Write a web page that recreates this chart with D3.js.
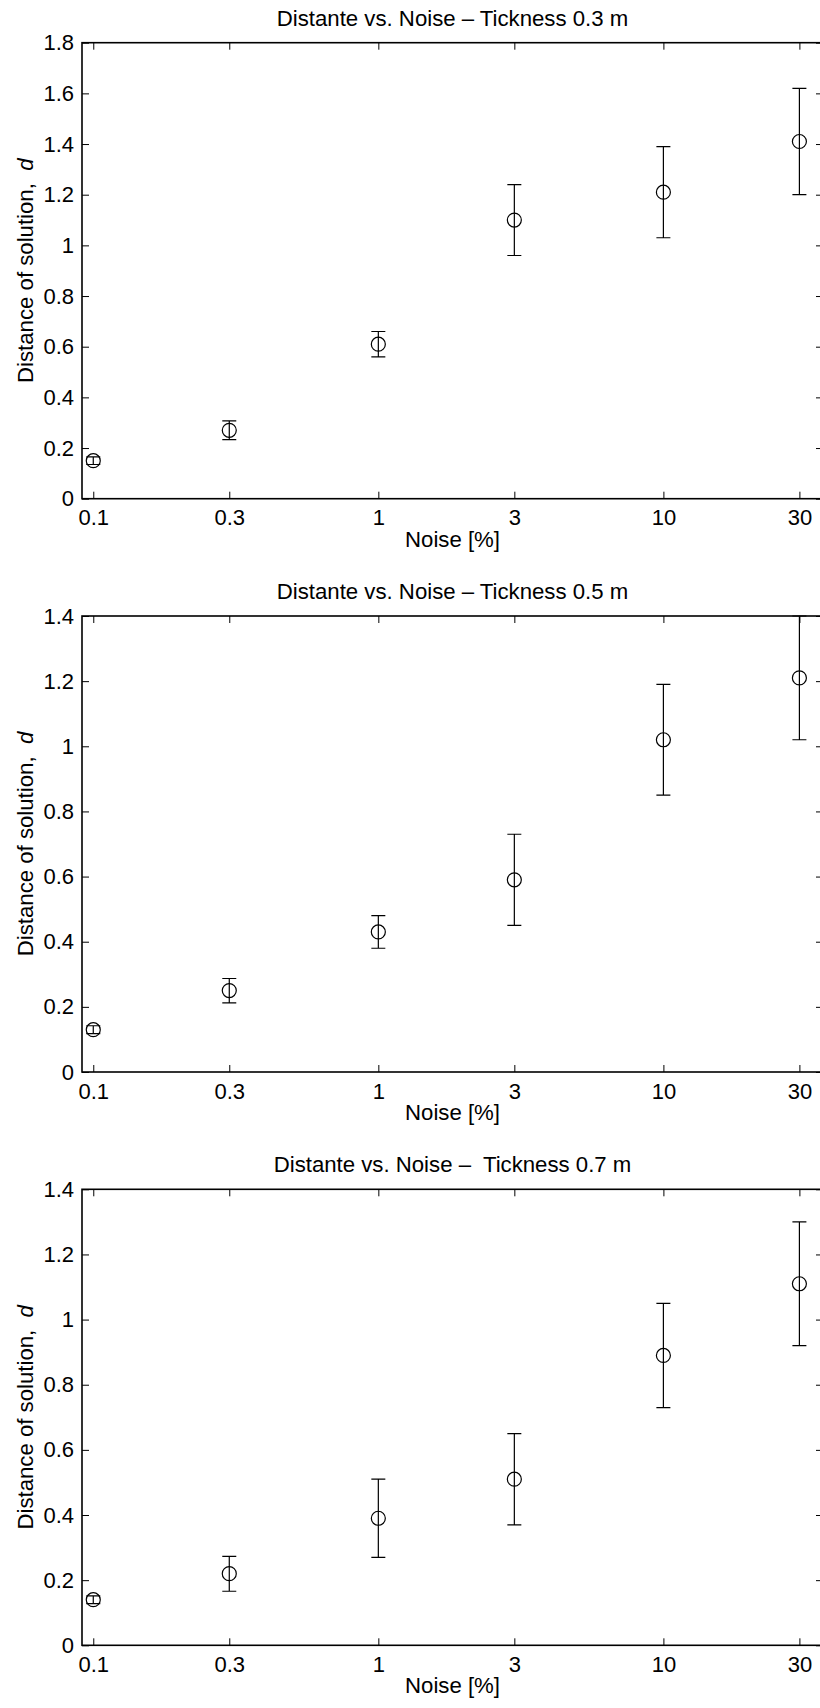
<!DOCTYPE html>
<head>
  <meta charset="utf-8">
  <script src="https://d3js.org/d3.v7.min.js"></script>
  <style>
    body { margin: 0; background: #fff; }
    svg { display: block; font-family: "Liberation Sans", Arial, sans-serif; }
  </style>
</head>
<body>
  <svg width="820" height="1708"></svg>
  <script>
    // noise levels (x), shared by the three panels
    var noise = [0.1, 0.3, 1, 3, 10, 30];
    var titles = [
      'Distante vs. Noise \u2013 Tickness 0.3 m',
      'Distante vs. Noise \u2013 Tickness 0.5 m',
      'Distante vs. Noise \u2013  Tickness 0.7 m'
    ];
    var yMax = [1.8, 1.4, 1.4];

    // thickness 0.3 m
    var dist03 = [0.15, 0.27, 0.61, 1.10, 1.21, 1.41];
    var low03  = [0.135, 0.233, 0.56, 0.96, 1.03, 1.20];
    var high03 = [0.165, 0.307, 0.66, 1.24, 1.39, 1.62];
    // thickness 0.5 m
    var dist05 = [0.13, 0.25, 0.43, 0.59, 1.02, 1.21];
    var low05  = [0.118, 0.212, 0.38, 0.45, 0.85, 1.02];
    var high05 = [0.142, 0.287, 0.48, 0.73, 1.19, 1.40];
    // thickness 0.7 m
    var dist07 = [0.14, 0.22, 0.39, 0.51, 0.89, 1.11];
    var low07  = [0.128, 0.166, 0.27, 0.37, 0.73, 0.92];
    var high07 = [0.152, 0.273, 0.51, 0.65, 1.05, 1.30];

    var series = [[dist03, low03, high03], [dist05, low05, high05], [dist07, low07, high07]];

    var svg = d3.select('svg');
    var left = 82, right = 823, plotH = 456;
    var tops = [42.7, 616, 1189.3];
    var tick = 7, cap = 7;

    var x = d3.scaleLog().domain([0.0913, 36.3]).range([left, right]);

    series.forEach(function(s, p) {
      var top = tops[p], bottom = top + plotH;
      var y = d3.scaleLinear().domain([0, yMax[p]]).range([bottom, top]);
      var yTicks = d3.range(0, yMax[p] + 0.001, 0.2);
      var g = svg.append('g');

      var fmtY = function(d) { return String(+d.toFixed(1)); };

      var axL = g.append('g').attr('transform', 'translate(' + left + ',0)')
        .call(d3.axisLeft(y).tickValues(yTicks).tickFormat(fmtY)
          .tickSizeInner(-tick).tickSizeOuter(0).tickPadding(8));
      var axR = g.append('g').attr('transform', 'translate(' + right + ',0)')
        .call(d3.axisRight(y).tickValues(yTicks).tickFormat('')
          .tickSizeInner(-tick).tickSizeOuter(0));
      var axB = g.append('g').attr('transform', 'translate(0,' + bottom + ')')
        .call(d3.axisBottom(x).tickValues(noise).tickFormat(function(d) { return String(d); })
          .tickSizeInner(-tick).tickSizeOuter(0).tickPadding(11));
      var axT = g.append('g').attr('transform', 'translate(0,' + top + ')')
        .call(d3.axisTop(x).tickValues(noise).tickFormat('')
          .tickSizeInner(-tick).tickSizeOuter(0));

      [axL, axR, axB, axT].forEach(function(a) {
        a.select('.domain').remove();
        a.selectAll('line').attr('stroke', '#000').attr('stroke-width', 1);
        a.selectAll('text').attr('font-size', 22).attr('fill', '#000')
          .attr('font-family', '"Liberation Sans", Arial, sans-serif');
      });

      g.append('rect')
        .attr('x', left).attr('y', top)
        .attr('width', right - left).attr('height', plotH)
        .attr('fill', 'none').attr('stroke', '#000').attr('stroke-width', 1.6);

      // title
      g.append('text')
        .attr('x', (left + right) / 2).attr('y', top - 17)
        .attr('text-anchor', 'middle').attr('font-size', 22.2)
        .style('white-space', 'pre')
        .text(titles[p]);

      // x label
      g.append('text')
        .attr('x', (left + right) / 2).attr('y', bottom + 48)
        .attr('text-anchor', 'middle').attr('font-size', 22.2)
        .text('Noise [%]');

      // y label
      var yl = g.append('text')
        .attr('transform', 'translate(33,' + (top + plotH / 2) + ')rotate(-90)')
        .attr('text-anchor', 'middle').attr('font-size', 22.2)
        .style('white-space', 'pre');
      yl.append('tspan').text('Distance of solution,  ');
      yl.append('tspan').attr('font-style', 'italic').text('d');

      // error bars + markers
      var pts = noise.map(function(n, i) {
        return { x: n, v: s[0][i], lo: s[1][i], hi: s[2][i] };
      });
      var bars = g.append('g').attr('stroke', '#000').attr('stroke-width', 1.2).attr('fill', 'none');
      bars.selectAll('path.err').data(pts).enter().append('path')
        .attr('class', 'err')
        .attr('d', function(d) {
          var cx = x(d.x), y0 = y(d.lo), y1 = y(d.hi);
          return 'M' + cx + ',' + y0 + 'V' + y1 +
            'M' + (cx - cap) + ',' + y0 + 'H' + (cx + cap) +
            'M' + (cx - cap) + ',' + y1 + 'H' + (cx + cap);
        });
      bars.selectAll('circle').data(pts).enter().append('circle')
        .attr('cx', function(d) { return x(d.x); })
        .attr('cy', function(d) { return y(d.v); })
        .attr('r', 7);
    });
  </script>
</body>
